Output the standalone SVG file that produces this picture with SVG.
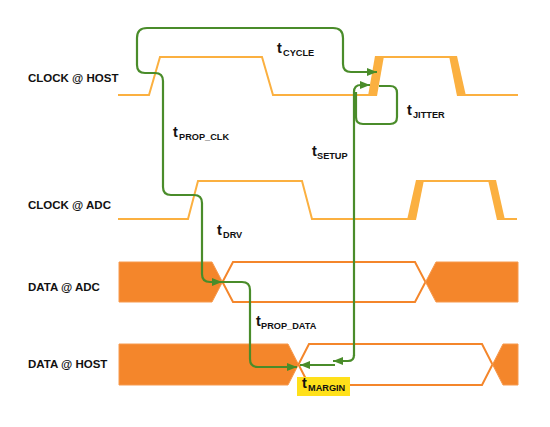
<svg xmlns="http://www.w3.org/2000/svg" width="550" height="427" viewBox="0 0 550 427">
<defs>
<style>
.lbl{font-family:"Liberation Sans",Arial,sans-serif;font-weight:bold;font-size:11.5px;fill:#111}
.t{font-family:"Liberation Sans",Arial,sans-serif;font-weight:bold;font-size:14.5px;fill:#111}
.s{font-size:9.2px}
.clk{fill:none;stroke:#FBB040;stroke-width:2}
.clkf{fill:#FBB040;stroke:none}
.dat{fill:#F4862B;stroke:#F79A4E;stroke-width:1}
.open{fill:none;stroke:#F4862B;stroke-width:2}
.g{fill:none;stroke:#4A8C2A;stroke-width:2.2;stroke-linejoin:round}
</style>
<marker id="ah" viewBox="0 0 10 8" refX="10" refY="4" markerWidth="11" markerHeight="8" markerUnits="userSpaceOnUse" orient="auto">
<path d="M0,0 L10,4 L0,8 Z" fill="#4A8C2A"/>
</marker>
</defs>
<rect width="550" height="427" fill="#fff"/>

<g id="clock-host">
<text class="lbl" x="28" y="82">CLOCK @ HOST</text>
<polyline class="clk" points="118,95 149,95 160,57 262,57 273,95 370,95"/>
<polygon class="clkf" points="368,96 377,96 384,56 375,56"/>
<polyline class="clk" points="382,57 451,57"/>
<polygon class="clkf" points="449,56 457,56 466,96 457,96"/>
<polyline class="clk" points="464,95 518,95"/>
</g>

<g id="clock-adc">
<text class="lbl" x="28" y="209">CLOCK @ ADC</text>
<polyline class="clk" points="118,219 188,219 198,181 302,181 312,219 409,219"/>
<polygon class="clkf" points="407,220 416,220 424,180 416,180"/>
<polyline class="clk" points="422,181 490,181"/>
<polygon class="clkf" points="488,180 496,180 505,220 497,220"/>
<polyline class="clk" points="503,219 517,219"/>
</g>

<g id="data-adc">
<text class="lbl" x="28" y="291">DATA @ ADC</text>
<polygon class="dat" points="119,262 212,262 222.5,282 212,302 119,302"/>
<polygon class="open" points="222.5,282 233,262 415,262 425.5,282 415,302 233,302"/>
<polygon class="dat" points="425.5,282 436,262 518,262 518,302 436,302"/>
</g>

<g id="data-host">
<text class="lbl" x="28" y="368">DATA @ HOST</text>
<polygon class="dat" points="119,344 288,344 298.5,364.5 288,385 119,385"/>
<polygon class="open" points="298.5,364.5 309,344 482,344 492.5,364.5 482,385 309,385"/>
<polygon class="dat" points="492.5,364.5 503,344 518,344 518,385 503,385"/>
</g>

<g id="connectors">
<path class="g" d="M152 73 H145 Q137 73 137 65 V38 Q137 28 147 28 H333 Q343 28 343 38 V64 Q343 72 351 72 H377" marker-end="url(#ah)"/>
<path class="g" d="M150 73 H155 Q163 73 163 81 V187 Q163 195 171 195 H194 Q202 195 202 203 V274 Q202 282 210 282 H222" marker-end="url(#ah)"/>
<path class="g" d="M222 282 H242 Q250 282 250 290 V359 Q250 367 258 367 H297" marker-end="url(#ah)"/>
<path class="g" d="M354 356 V92 Q354 85 361 85 H370" marker-end="url(#ah)"/>
<path class="g" d="M354 355 Q354 361 348 361 H333" marker-end="url(#ah)"/>
<path class="g" d="M335 365 H300" marker-end="url(#ah)"/>
<path class="g" d="M379 86 H390 Q397 86 397 93 V117 Q397 124 390 124 H363 Q356 124 356 117 V92"/>
</g>

<g id="labels">
<text class="t" x="277" y="53">t<tspan class="s" x="283" y="56">CYCLE</tspan></text>
<text class="t" x="173" y="137">t<tspan class="s" x="179" y="140">PROP_CLK</tspan></text>
<text class="t" x="312" y="156">t<tspan class="s" x="317" y="159">SETUP</tspan></text>
<text class="t" x="407" y="115">t<tspan class="s" x="413" y="118">JITTER</tspan></text>
<text class="t" x="217" y="235">t<tspan class="s" x="223" y="238">DRV</tspan></text>
<text class="t" x="256" y="326">t<tspan class="s" x="261" y="329">PROP_DATA</tspan></text>
<g id="t-margin">
<rect x="297" y="377" width="53" height="19" fill="#FFE01A"/>
<text class="t" x="302" y="388">t<tspan class="s" x="308" y="391">MARGIN</tspan></text>
</g>
</g>
</svg>
